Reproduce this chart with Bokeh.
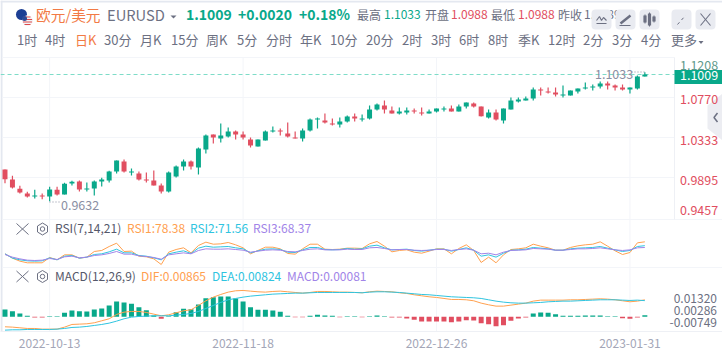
from bokeh.plotting import figure
from bokeh.models import ColumnDataSource, Range1d, LinearAxis, FixedTicker
from bokeh.core.properties import value
from bokeh.embed import file_html
from bokeh.resources import INLINE

# ---- candles -------------------------------------------------------------
OPEN = [.9972,.9863,.9761,.9710,.9677,.9688,.9677,.9750,.9699,.9819,
        .9841,.9753,.9764,.9841,.9852,.9950,1.0059,.9939,.9928,.9863,
        .9852,.9797,.9731,.9895,1.0004,1.0059,.9994,1.0190,1.0354,1.0310,
        1.0332,1.0387,1.0354,1.0299,1.0223,1.0288,1.0387,1.0398,1.0365,1.0321,
        1.0310,1.0398,1.0518,1.0507,1.0474,1.0463,1.0496,1.0550,1.0518,1.0529,
        1.0627,1.0671,1.0616,1.0583,1.0594,1.0616,1.0594,1.0583,1.0605,1.0627,
        1.0638,1.0605,1.0660,1.0692,1.0660,1.0540,1.0594,1.0507,1.0627,1.0714,
        1.0725,1.0747,1.0845,1.0823,1.0813,1.0780,1.0780,1.0823,1.0856,1.0867,
        1.0878,1.0911,1.0889,1.0867,1.0845,1.0856,1.0988]
HIGH = [.9972,.9903,.9793,.9728,.9750,.9710,.9782,.9782,.9826,.9848,
        .9852,.9830,.9852,.9881,.9957,1.0070,1.0081,.9983,.9950,.9939,
        .9961,.9819,.9950,1.0015,1.0081,1.0070,1.0212,1.0354,1.0354,1.0474,
        1.0430,1.0398,1.0387,1.0321,1.0299,1.0398,1.0441,1.0419,1.0485,1.0387,
        1.0419,1.0529,1.0540,1.0583,1.0529,1.0540,1.0561,1.0583,1.0572,1.0671,
        1.0692,1.0725,1.0660,1.0649,1.0649,1.0638,1.0649,1.0627,1.0638,1.0660,
        1.0671,1.0682,1.0703,1.0703,1.0660,1.0627,1.0627,1.0638,1.0758,1.0758,
        1.0769,1.0867,1.0867,1.0867,1.0867,1.0889,1.0834,1.0856,1.0922,1.0900,
        1.0933,1.0933,1.0900,1.0900,1.0867,1.0998,1.1033]
LOW = [.9822,.9764,.9710,.9666,.9655,.9648,.9625,.9688,.9699,.9797,
       .9731,.9731,.9688,.9786,.9830,.9928,.9939,.9906,.9852,.9830,
       .9797,.9710,.9720,.9884,.9961,.9972,.9917,1.0146,1.0256,1.0267,
       1.0321,1.0299,1.0299,1.0212,1.0223,1.0288,1.0376,1.0343,1.0321,1.0310,
       1.0277,1.0387,1.0419,1.0474,1.0452,1.0430,1.0485,1.0496,1.0496,1.0518,
       1.0616,1.0583,1.0583,1.0572,1.0572,1.0583,1.0561,1.0583,1.0594,1.0605,
       1.0605,1.0605,1.0638,1.0649,1.0550,1.0529,1.0507,1.0474,1.0627,1.0703,
       1.0725,1.0725,1.0780,1.0802,1.0769,1.0758,1.0780,1.0802,1.0845,1.0834,
       1.0856,1.0845,1.0834,1.0834,1.0802,1.0845,1.0988]
CLOSE = [.9866,.9775,.9720,.9677,.9688,.9677,.9753,.9699,.9815,.9837,
         .9753,.9764,.9841,.9863,.9950,1.0070,.9950,.9950,.9863,.9852,
         .9797,.9731,.9939,1.0004,1.0059,1.0004,1.0201,1.0343,1.0321,1.0343,
         1.0387,1.0354,1.0321,1.0234,1.0299,1.0387,1.0398,1.0387,1.0332,1.0310,
         1.0398,1.0518,1.0529,1.0485,1.0463,1.0496,1.0550,1.0529,1.0529,1.0627,
         1.0682,1.0627,1.0583,1.0605,1.0616,1.0605,1.0583,1.0605,1.0638,1.0638,
         1.0605,1.0660,1.0703,1.0660,1.0554,1.0594,1.0518,1.0638,1.0725,1.0736,
         1.0747,1.0845,1.0834,1.0813,1.0791,1.0791,1.0834,1.0856,1.0867,1.0878,
         1.0911,1.0889,1.0867,1.0845,1.0867,1.0987,1.1009]

# ---- RSI -----------------------------------------------------------------
RSI1 = [57.2,49.5,44.2,41.3,41.3,41.3,50.7,46.6,55.4,55.4,
        49.5,51.3,61.3,63.1,70.1,76.0,61.3,61.9,53.0,51.9,
        48.3,38.3,60.1,64.8,67.8,58.9,71.9,77.8,74.2,74.8,
        77.2,73.1,67.8,57.2,63.1,68.9,68.9,66.0,57.8,56.6,
        66.0,74.2,74.2,65.4,64.8,65.4,67.2,67.2,66.6,74.8,
        79.0,70.7,60.7,63.1,64.2,60.1,58.3,61.9,66.0,66.0,
        57.2,66.6,73.1,63.1,41.9,51.3,41.3,55.4,64.8,66.0,
        67.8,74.2,70.7,67.8,63.6,63.6,68.4,71.3,73.1,74.2,
        78.4,70.7,62.5,56.0,59.5,76.6,78.38]
RSI2 = [57.2,49.5,46.6,44.8,44.2,44.8,50.1,46.6,53.0,54.2,
        49.5,51.3,56.0,57.2,60.7,65.4,58.9,58.9,54.2,53.0,
        50.1,46.6,57.2,60.1,62.5,57.8,67.2,70.7,68.9,69.5,
        70.1,67.8,66.0,58.9,62.5,65.4,66.0,64.8,60.1,59.5,
        64.2,68.4,68.4,64.8,64.2,64.8,66.6,65.4,66.0,70.7,
        72.5,67.8,64.2,64.8,65.4,63.1,61.9,63.6,65.4,65.4,
        61.9,64.8,67.8,63.6,53.0,55.4,51.3,58.3,63.6,64.2,
        65.4,68.4,67.2,66.0,63.6,63.6,66.0,67.2,67.8,68.4,
        70.1,67.2,64.2,61.3,63.1,70.1,71.56]
RSI3 = [56.0,51.3,48.3,46.0,45.4,46.0,48.9,47.2,51.9,53.0,
        50.1,51.3,54.2,55.4,57.8,61.3,56.6,56.6,53.6,52.4,
        50.7,47.7,55.4,57.2,58.9,57.2,63.1,66.0,65.4,65.4,
        66.0,64.8,63.6,60.1,61.9,63.6,64.2,63.6,61.3,60.7,
        63.1,65.4,66.0,64.2,64.2,64.2,65.4,64.8,64.8,67.8,
        68.4,66.6,64.2,64.8,64.8,63.6,63.1,63.6,64.8,64.8,
        63.1,64.8,66.0,63.6,57.2,58.3,55.4,60.1,63.1,63.6,
        64.2,66.6,66.0,65.4,63.6,63.6,64.8,66.0,66.0,66.6,
        67.8,66.0,64.2,63.1,64.2,67.8,68.37]

# ---- MACD ----------------------------------------------------------------
DIF = [-.00510,-.00527,-.00561,-.00595,-.00595,-.00629,-.00629,-.00629,-.00527,-.00391,
       -.00374,-.00357,-.00306,-.00204,-.00102,.00119,.00238,.00272,.00272,.00221,
       .00136,.00051,.00102,.00204,.00306,.00357,.00578,.00816,.01003,.01139,
       .01258,.01326,.01343,.01309,.01275,.01258,.01292,.01309,.01275,.01241,
       .01207,.01241,.01292,.01292,.01275,.01258,.01258,.01241,.01224,.01275,
       .01309,.01292,.01275,.01224,.01190,.01122,.01071,.01020,.00986,.00935,
       .00884,.00884,.00867,.00816,.00697,.00612,.00544,.00544,.00595,.00646,
       .00697,.00799,.00850,.00850,.00850,.00850,.00867,.00867,.00884,.00901,
       .00918,.00901,.00867,.00816,.00765,.00799,.00865]
DEA = [-.00680,-.00663,-.00663,-.00646,-.00646,-.00646,-.00646,-.00629,-.00595,-.00544,
       -.00527,-.00493,-.00442,-.00391,-.00323,-.00221,-.00102,-.00017,.00017,.00034,
       .00051,.00051,.00051,.00085,.00119,.00170,.00272,.00425,.00578,.00731,
       .00867,.00935,.01003,.01054,.01088,.01122,.01156,.01173,.01190,.01207,
       .01207,.01224,.01241,.01241,.01241,.01241,.01241,.01241,.01224,.01258,
       .01275,.01275,.01258,.01241,.01207,.01173,.01139,.01122,.01088,.01054,
       .01020,.01003,.00986,.00969,.00935,.00867,.00799,.00748,.00714,.00697,
       .00697,.00714,.00731,.00765,.00782,.00799,.00799,.00816,.00833,.00850,
       .00867,.00867,.00867,.00850,.00833,.00850,.00824]
HIST = [.00374,.00289,.00170,.00051,-.00034,-.00034,.00034,.00034,.00204,.00323,
        .00289,.00272,.00374,.00425,.00578,.00782,.00731,.00663,.00493,.00340,
        .00068,-.00102,.00034,.00238,.00408,.00391,.00629,.00952,.01003,.01037,
        .01037,.00935,.00782,.00493,.00357,.00357,.00323,.00255,.00051,-.00026,
        -.00026,.00051,.00102,.00068,.00051,-.00026,.00034,.00026,-.00026,.00034,
        .00068,.00034,-.00034,-.00034,-.00085,-.00153,-.00238,-.00238,-.00238,-.00238,
        -.00272,-.00238,-.00170,-.00187,-.00323,-.00374,-.00476,-.00425,-.00204,-.00085,
        -.00034,.00170,.00221,.00204,.00136,.00051,.00051,.00051,.00068,.00068,
        .00068,.00034,.00034,-.00068,-.00102,-.00034,.00081]

# ---- texts ---------------------------------------------------------------
PERIODS = ["1时","4时","日K","30分","月K","15分","周K","5分","分时","年K","10分",
           "20分","2时","3时","6时","8时","季K","12时","2分","3分","4分","更多"]
PRICE_TICKS = ["1.1208","1.0770","1.0333","0.9895","0.9457"]
MACD_TICKS = ["0.01320","0.00286","-0.00749"]
DATE_BARS = [6, 32, 58, 84]
DATE_LABELS = ["2022-10-13","2022-11-18","2022-12-26","2023-01-31"]

F = "Noto Sans CJK SC"
GREEN, RED = "#09a88a", "#e14e60"
GREY, LABEL, GRID = "#6c7082", "#8b8fa3", "#f3f5f9"
ORANGE, CYAN, PURPLE = "#ffa04f", "#2fc4df", "#a184e8"

n = len(OPEN)
bars = list(range(n))
up = [c >= o for o, c in zip(OPEN, CLOSE)]
src = ColumnDataSource(dict(
    x=bars, low=LOW, high=HIGH,
    top=[max(o, c) for o, c in zip(OPEN, CLOSE)],
    bot=[min(o, c) for o, c in zip(OPEN, CLOSE)],
    col=[GREEN if u else RED for u in up]))
hsrc = ColumnDataSource(dict(x=bars, h=HIST, zero=[0.0] * n,
                             col=[GREEN if h >= 0 else RED for h in HIST]))

# primary ranges are the page's pixels; the series use their own scales
p = figure(width=722, height=353, x_range=(0, 722), y_range=(331, 0),
           x_axis_location=None, y_axis_location=None, toolbar_location=None,
           output_backend="svg", min_border=0, min_border_bottom=22,
           outline_line_color=None, background_fill_color="white")
p.grid.visible = False
p.extra_x_ranges = {"bars": Range1d(-0.6048, 96.438)}
p.extra_y_ranges = {"price": Range1d(0.82027, 1.18172),
                    "rsi": Range1d(-80.07, 504.8),
                    "macd": Range1d(-0.0075, 0.16131)}


def txt(x, y, s, color=GREY, size=13, align="left", weight="normal"):
    p.text(x=[x - 0.5], y=[y - 1.3], text=[s], text_font=value(F), text_font_size=f"{size}px",
           text_color=color, text_align=align, text_baseline="middle",
           text_font_style=weight)


def seg(x0, y0, x1, y1, color=GRID, width=1, dash="solid", alpha=1.0):
    p.segment(x0=[x0], y0=[y0], x1=[x1], y1=[y1], line_color=color,
              line_width=width, line_dash=dash, line_alpha=alpha)


# page edges
p.quad(left=[0], right=[2], top=[0], bottom=[331], fill_color="#e4e8f0", line_color=None)
p.quad(left=[0], right=[722], top=[0], bottom=[2], fill_color="#e4e8f0", line_color=None)

# grid
p.segment(x0=DATE_BARS, x1=DATE_BARS, y0=[57] * 4, y1=[331] * 4, x_range_name="bars",
          line_color=GRID, line_width=1)
for gy in (57, 97, 137, 177):
    seg(2, gy, 674, gy)
for gy in (219, 267):
    seg(2, gy, 722, gy)
seg(674, 57, 674, 219, color="#eef0f5")

# last price line
p.segment(x0=[-0.6], x1=[90.0], y0=[CLOSE[-1]], y1=[CLOSE[-1]], x_range_name="bars",
          y_range_name="price", line_color="#7edcc8", line_width=1, line_dash="4 3")

# candles
p.segment(x0="x", x1="x", y0="low", y1="high", source=src, line_color="col", line_width=1.2,
          x_range_name="bars", y_range_name="price")
p.vbar(x="x", width=0.67, top="top", bottom="bot", source=src, fill_color="col",
       line_color=None, x_range_name="bars", y_range_name="price")

# high / low markers
txt(595, 75, "1.1033", LABEL, 12.5)
seg(631, 71.5, 644, 71.5, LABEL, 1, "1 2")
txt(61, 205.5, "0.9632", LABEL, 12.5)
seg(49, 201.5, 60, 201.5, LABEL, 1, "1 2")

# price scale labels
txt(680, 66, PRICE_TICKS[0], "#5f9a8c", 12.5)
p.quad(left=[674], right=[722], top=[69.5], bottom=[83.5], fill_color=GREEN, line_color=None)
txt(680, 76, "1.1009", "white", 12.5)
p.patch(x=[722, 707, 707, 722], y=[93, 105, 128, 140], fill_color="#ecedf2", line_color=None)
txt(680, 100, PRICE_TICKS[1], RED, 12.5)
txt(680, 141, PRICE_TICKS[2], RED, 12.5)
txt(680, 181, PRICE_TICKS[3], RED, 12.5)
txt(680, 211, PRICE_TICKS[4], RED, 12.5)
p.line(x=[717, 713.5, 717], y=[112.5, 117, 121.5], line_color=GREY, line_width=1.5)

# RSI
for s, c in ((RSI1, ORANGE), (RSI2, CYAN), (RSI3, PURPLE)):
    p.line(x=bars, y=s, line_color=c, line_width=1, x_range_name="bars", y_range_name="rsi")

# MACD
p.vbar(x="x", width=0.67, top="h", bottom="zero", source=hsrc, fill_color="col",
       line_color=None, x_range_name="bars", y_range_name="macd")
p.line(x=bars, y=DIF, line_color=ORANGE, line_width=1, x_range_name="bars", y_range_name="macd")
p.line(x=bars, y=DEA, line_color=CYAN, line_width=1, x_range_name="bars", y_range_name="macd")
for y, s in zip((299.5, 311.5, 323), MACD_TICKS):
    txt(717, y, s, GREY, 12, "right")

# indicator header rows
for ry in (228.5, 276):
    seg(16, ry - 5.5, 28, ry + 5.5, GREY, 1)
    seg(28, ry - 5.5, 16, ry + 5.5, GREY, 1)
    p.patch(x=[42, 47, 47, 42, 37, 37], y=[ry - 6, ry - 3, ry + 3, ry + 6, ry + 3, ry - 3],
            fill_color=None, line_color=GREY, line_width=1)
    p.scatter(x=[42], y=[ry], size=4.5, marker="circle", fill_color=None, line_color=GREY)
txt(55, 228.5, "RSI(7,14,21)", "#55586a", 12)
txt(127, 228.5, "RSI1:78.38", ORANGE, 12)
txt(190, 228.5, "RSI2:71.56", CYAN, 12)
txt(253, 228.5, "RSI3:68.37", PURPLE, 12)
txt(55, 276, "MACD(12,26,9)", "#55586a", 12)
txt(141, 276, "DIF:0.00865", ORANGE, 12)
txt(212, 276, "DEA:0.00824", CYAN, 12)
txt(287, 276, "MACD:0.00081", PURPLE, 12)

# header: flag
p.scatter(x=[21], y=[14], size=11, marker="circle", fill_color="#1d3f94", line_color=None)
p.scatter(x=[27], y=[20], size=10.5, marker="circle", fill_color="#f3f3f6", line_color=None)
for sy, hw in ((16.5, 3), (19, 4.6), (21.5, 4.6), (24, 3)):
    seg(27 - hw, sy, 27 + hw, sy, "#dd4a4a", 1.1)
p.scatter(x=[24], y=[18], size=5, marker="circle", fill_color="#2d4a96", line_color=None)

# header: quote
txt(36, 15, "欧元/美元", "#f27a45", 14.7)
txt(107, 15, "EURUSD", GREY, 14.7)
p.patch(x=[170, 176, 173], y=[15, 15, 18], fill_color=GREY, line_color=None)
txt(186, 15, "1.1009", GREEN, 14, weight="bold")
txt(238, 15, "+0.0020", GREEN, 14, weight="bold")
txt(299, 15, "+0.18%", GREEN, 14, weight="bold")
for x, s, c in ((357, "最高", GREY), (384, "1.1033", GREEN), (425, "开盘", GREY),
                (451, "1.0988", RED), (491, "最低", GREY), (518, "1.0988", RED),
                (558, "昨收", GREY), (584, "1.0989", GREY)):
    txt(x, 15, s, c, 12)

# header: tool buttons
p.quad(left=[591, 615, 639, 671, 695], right=[611, 635, 659, 691, 715],
       top=[9] * 5, bottom=[29] * 5, fill_color="#e9ebf1", line_color=None, border_radius=4)
p.line(x=[596, 599, 601, 603, 606], y=[20, 16, 20, 17, 20], line_color=GREY, line_width=1.1)
seg(596, 23, 606, 23, GREY, 1.2)
seg(620, 23, 630, 15, GREY, 2.5)
seg(619, 25, 630, 25, GREY, 1)
for cx, t, b in ((644.5, 15, 22), (649, 13, 25), (653.5, 16, 21)):
    seg(cx, t - 1, cx, b + 1, GREY, 1)
    seg(cx, t, cx, b, GREY, 3.2)
seg(677, 24, 685, 15, GREY, 1, "3 3")
seg(700, 13, 710, 25, GREY, 1.1)
seg(710, 13, 700, 25, GREY, 1.1)

# period row
PERIOD_X = [17, 45, 75, 104, 140, 171, 206, 237, 266, 300, 330,
            366, 402, 431, 459, 488, 518, 548, 583, 612, 641, 671]
for x, s in zip(PERIOD_X, PERIODS):
    txt(x, 40, s, "#f27a45" if s == "日K" else GREY, 13)
p.patch(x=[698, 703, 700.5], y=[40.5, 40.5, 43.5], fill_color=GREY, line_color=None)

# date axis
ax = LinearAxis(x_range_name="bars", ticker=FixedTicker(ticks=DATE_BARS),
                major_label_overrides=dict(zip(DATE_BARS, DATE_LABELS)))
ax.axis_line_color = "#eef0f5"
ax.major_tick_line_color = None
ax.minor_tick_line_color = None
ax.major_label_text_color = "#a3a6b7"
ax.major_label_text_font = F
ax.major_label_text_font_size = "12px"
ax.major_label_standoff = 1
p.add_layout(ax, "below")

open("out.html", "w").write(file_html(p, INLINE))
